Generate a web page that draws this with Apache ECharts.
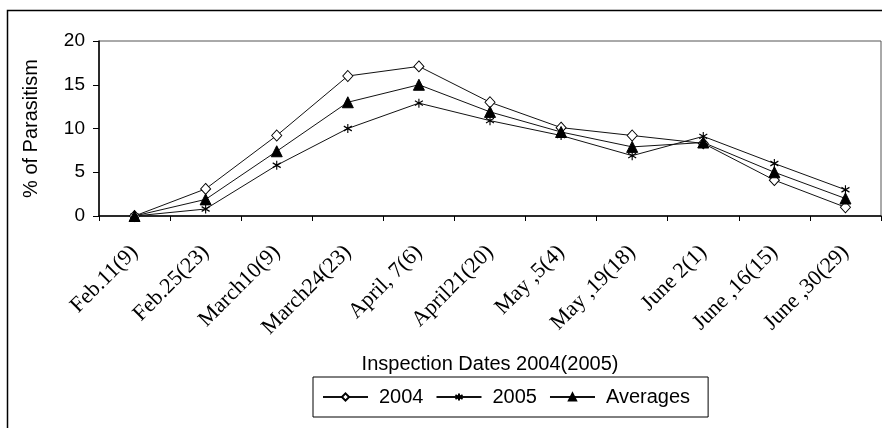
<!DOCTYPE html>
<html><head><meta charset="utf-8">
<script src="https://cdn.jsdelivr.net/npm/echarts@6/dist/echarts.min.js"></script>
<style>html,body{margin:0;padding:0;background:#fff}#c{width:882px;height:428px}</style>
</head><body><div id="c"></div>
<script>
const categories = ["Feb.11(9)","Feb.25(23)","March10(9)","March24(23)","April, 7(6)","April21(20)","May ,5(4)","May ,19(18)","June 2(1)","June ,16(15)","June ,30(29)"];
const values2004 = [0, 3.1, 9.2, 16, 17.1, 13, 10.1, 9.2, 8.3, 4.1, 1];
const values2005 = [0, 0.8, 5.8, 10, 12.9, 10.9, 9.2, 6.9, 9.1, 6, 3];
const valuesAvg = [0, 1.9, 7.4, 13, 15, 11.9, 9.6, 7.9, 8.4, 5, 2];
const yTicks = [0, 5, 10, 15, 20];

const star = 'path://M0,-5L0,5M-4.5,-2.6L4.5,2.6M-4.5,2.6L4.5,-2.6';
const chart = echarts.init(document.getElementById('c'));
const lineStyle = {color:'#111', width:1};
chart.setOption({
  animation:false,
  backgroundColor:'#fff',
  graphic:[{type:'rect', shape:{x:7.5,y:10.5,width:900,height:500}, style:{fill:null, stroke:'#000', lineWidth:1.5}, silent:true, z:-10}],
  grid:{left:99, right:1, top:41, bottom:212, show:true, borderColor:'#555', borderWidth:1},
  xAxis:{type:'category', data:categories, boundaryGap:true,
    axisLine:{lineStyle:{color:'#000', width:1.5}},
    axisTick:{show:true, length:5, lineStyle:{color:'#000'}},
    axisLabel:{rotate:45, fontFamily:'Liberation Serif', fontSize:22, color:'#000', margin:33},
    name:'Inspection Dates 2004(2005)', nameLocation:'middle', nameGap:138,
    nameTextStyle:{fontFamily:'Liberation Sans', fontSize:20, color:'#000'}},
  yAxis:{type:'value', min:0, max:20, interval:5,
    axisLine:{show:true, lineStyle:{color:'#000', width:1.5}},
    axisTick:{show:true, length:6, lineStyle:{color:'#000'}},
    splitLine:{show:false},
    axisLabel:{fontFamily:'Liberation Sans', fontSize:19, color:'#000', margin:14,
      formatter:v=> yTicks.includes(v) ? String(v) : ''},
    name:'% of Parasitism', nameLocation:'middle', nameGap:58, nameRotate:90,
    nameTextStyle:{fontFamily:'Liberation Sans', fontSize:20, color:'#000'}},
  legend:{left:313, top:377, padding:[10,18,10,9], borderColor:'#000', borderWidth:1,
    itemWidth:45, itemHeight:9, itemGap:12,
    textStyle:{fontFamily:'Liberation Sans', fontSize:20, color:'#000', padding:[0,0,0,6]},
    data:['2004','2005','Averages']},
  series:[
    {name:'2004', type:'line', data:values2004, symbol:'diamond', symbolSize:[10,11],
      itemStyle:{color:'#fff', borderColor:'#000', borderWidth:1}, lineStyle:lineStyle, z:3},
    {name:'2005', type:'line', data:values2005, symbol:star, symbolSize:[8,9],
      itemStyle:{color:'#000', borderColor:'#000', borderWidth:1.2}, lineStyle:lineStyle, z:2},
    {name:'Averages', type:'line', data:valuesAvg, symbol:'triangle', symbolSize:[11,11],
      itemStyle:{color:'#000', borderColor:'#000', borderWidth:1}, lineStyle:lineStyle, z:4}
  ]
});
</script></body></html>
